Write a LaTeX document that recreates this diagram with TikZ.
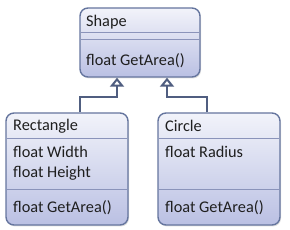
\documentclass[tikz,border=0pt]{standalone}
\usepackage{fontspec}
\setmainfont{Carlito}
\usetikzlibrary{arrows.meta, shadows}
\definecolor{boxline}{HTML}{65759E}
\definecolor{sepline}{HTML}{8A93BA}
\definecolor{conline}{HTML}{505E80}
\definecolor{boxtop}{HTML}{F2F3FA}
\definecolor{boxbot}{HTML}{BAC0E3}

\begin{document}
\begin{tikzpicture}[x=1pt, y=-1pt,
  classbox/.style={draw=boxline, line width=1.4pt, rounded corners=8pt,
                   top color=boxtop, bottom color=boxbot,
                   drop shadow={shadow xshift=1pt, shadow yshift=-1.5pt, opacity=0.25},
                   inner sep=0pt},
  sep/.style={sepline, line width=1pt},
  member/.style={anchor=west, inner sep=0pt, font=\fontsize{16.3}{18}\selectfont, text=black!88},
  genline/.style={draw=conline, line width=2.6pt,
                  -{Triangle[open, width=14pt, length=9pt, line width=2pt, fill=white]}}]
  \useasboundingbox (0,0) rectangle (290,230);
  % base class
  \node[classbox, minimum width=120pt, minimum height=69pt] (shape) at (140,42.5) {};
  \draw[sep] (81,33) -- (199,33);
  \draw[sep] (81,40) -- (199,40);
  \node[member] (shapename) at (86,22) {Shape};
  \node[member] (shapearea) at (86,61) {float GetArea()};
  % derived classes
  \node[classbox, minimum width=122pt, minimum height=112pt] (rect) at (67,169) {};
  \draw[sep] (7,139) -- (127,139);
  \draw[sep] (7,190) -- (127,190);
  \node[member] (rectname) at (13,126) {Rectangle};
  \node[member] (rectw) at (13,152) {float Width};
  \node[member] (recth) at (13,173) {float Height};
  \node[member] (rectarea) at (13,208) {float GetArea()};
  \node[classbox, minimum width=122pt, minimum height=112pt] (circ) at (219,169) {};
  \draw[sep] (159,139) -- (279,139);
  \draw[sep] (159,190) -- (279,190);
  \node[member] (circname) at (165,126) {Circle};
  \node[member] (circr) at (165,152) {float Radius};
  \node[member] (circarea) at (165,208) {float GetArea()};
  % generalization connectors
  \coordinate (rectjoin) at (80,97);
  \coordinate (circjoin) at (207,97);
  \draw[genline] (rectjoin |- rect.north) -- (rectjoin) -| ([xshift=-23pt]shape.south);
  \draw[genline] (circjoin |- circ.north) -- (circjoin) -| ([xshift=27pt]shape.south);
\end{tikzpicture}
\end{document}
